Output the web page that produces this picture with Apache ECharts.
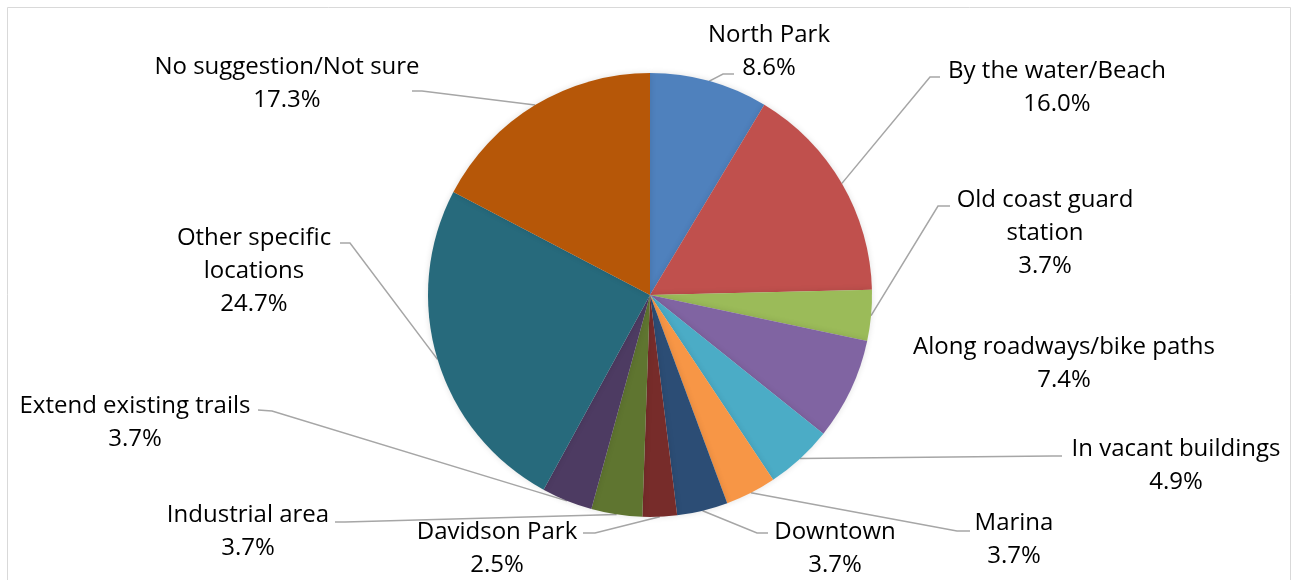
<!DOCTYPE html>
<html>
<head>
<meta charset="utf-8">
<script src="https://cdn.jsdelivr.net/npm/echarts@6/dist/echarts.min.js"></script>
<style>
  html, body { margin: 0; padding: 0; background: #ffffff; }
  #chart { width: 1293px; height: 580px; }
</style>
</head>
<body>
<div id="chart"></div>
<script>
// Where people suggested locations (share of responses, %)
const categories = [
  'North Park',
  'By the water/Beach',
  'Old coast guard station',
  'Along roadways/bike paths',
  'In vacant buildings',
  'Marina',
  'Downtown',
  'Davidson Park',
  'Industrial area',
  'Extend existing trails',
  'Other specific locations',
  'No suggestion/Not sure'
];
const shares = [8.6, 16.0, 3.7, 7.4, 4.9, 3.7, 3.7, 2.5, 3.7, 3.7, 24.7, 17.3];

const sliceColors = [
  '#4F81BD', '#C0504D', '#9BBB59', '#8064A2', '#4BACC6', '#F79646',
  '#2C4D75', '#772C2A', '#5F7530', '#4D3B62', '#276A7C', '#B65708'
];

// Long names wrapped onto two lines
const wrappedNames = {
  'Old coast guard station': 'Old coast guard\nstation',
  'Other specific locations': 'Other specific\nlocations'
};

// Label block centres
const labelCenters = [
  [769, 52], [1057, 88], [1045, 233], [1064, 364], [1176, 466], [1014, 540],
  [835, 549], [497, 549], [248, 532], [135, 423], [254, 271], [287, 84]
];

// Leader line bend and end points (null = no leader)
const leaderBends = [
  [[723, 74], [734, 74]],
  [[930, 77], [940, 77]],
  [[938, 206], [950, 206]],
  null,
  [[1052, 456], [1062, 456]],
  [[957, 531], [970, 531]],
  [[757, 533], [768, 533]],
  [[595, 533], [583, 533]],
  [[345, 522], [335, 522]],
  [[272, 411], [258, 410]],
  [[350, 243], [340, 243]],
  [[422, 91], [412, 91]]
];

const chart = echarts.init(document.getElementById('chart'), null, { renderer: 'canvas' });

const seriesData = categories.map((name, i) => {
  const item = { name: name, value: shares[i], itemStyle: { color: sliceColors[i] } };
  if (!leaderBends[i]) item.labelLine = { show: false };
  return item;
});

chart.setOption({
  animation: false,
  backgroundColor: '#ffffff',
  graphic: [{
    type: 'rect',
    silent: true,
    shape: { x: 7.5, y: 7.5, width: 1283, height: 620 },
    style: { fill: 'none', stroke: '#d9d9d9', lineWidth: 1 }
  }],
  series: [{
    type: 'pie',
    center: [650, 295],
    radius: 222,
    startAngle: 90,
    clockwise: true,
    avoidLabelOverlap: false,
    emphasis: { disabled: true },
    itemStyle: {
      borderWidth: 0,
      shadowBlur: 6,
      shadowColor: 'rgba(0,0,0,0.12)'
    },
    label: {
      show: true,
      position: 'outside',
      color: '#000000',
      fontFamily: 'Open Sans',
      fontSize: 24,
      lineHeight: 33,
      formatter: p => (wrappedNames[p.name] || p.name) + '\n' + p.value.toFixed(1) + '%'
    },
    labelLine: {
      show: true,
      length: 10,
      length2: 10,
      lineStyle: { color: '#a6a6a6', width: 1.5 }
    },
    labelLayout: function (p) {
      const i = p.dataIndex;
      const c = labelCenters[i];
      const out = { x: c[0], y: c[1], align: 'center', verticalAlign: 'middle' };
      const bend = leaderBends[i];
      if (bend && p.labelLinePoints) {
        out.labelLinePoints = [p.labelLinePoints[0], bend[0], bend[1]];
      }
      return out;
    },
    data: seriesData
  }]
});
</script>
</body>
</html>
